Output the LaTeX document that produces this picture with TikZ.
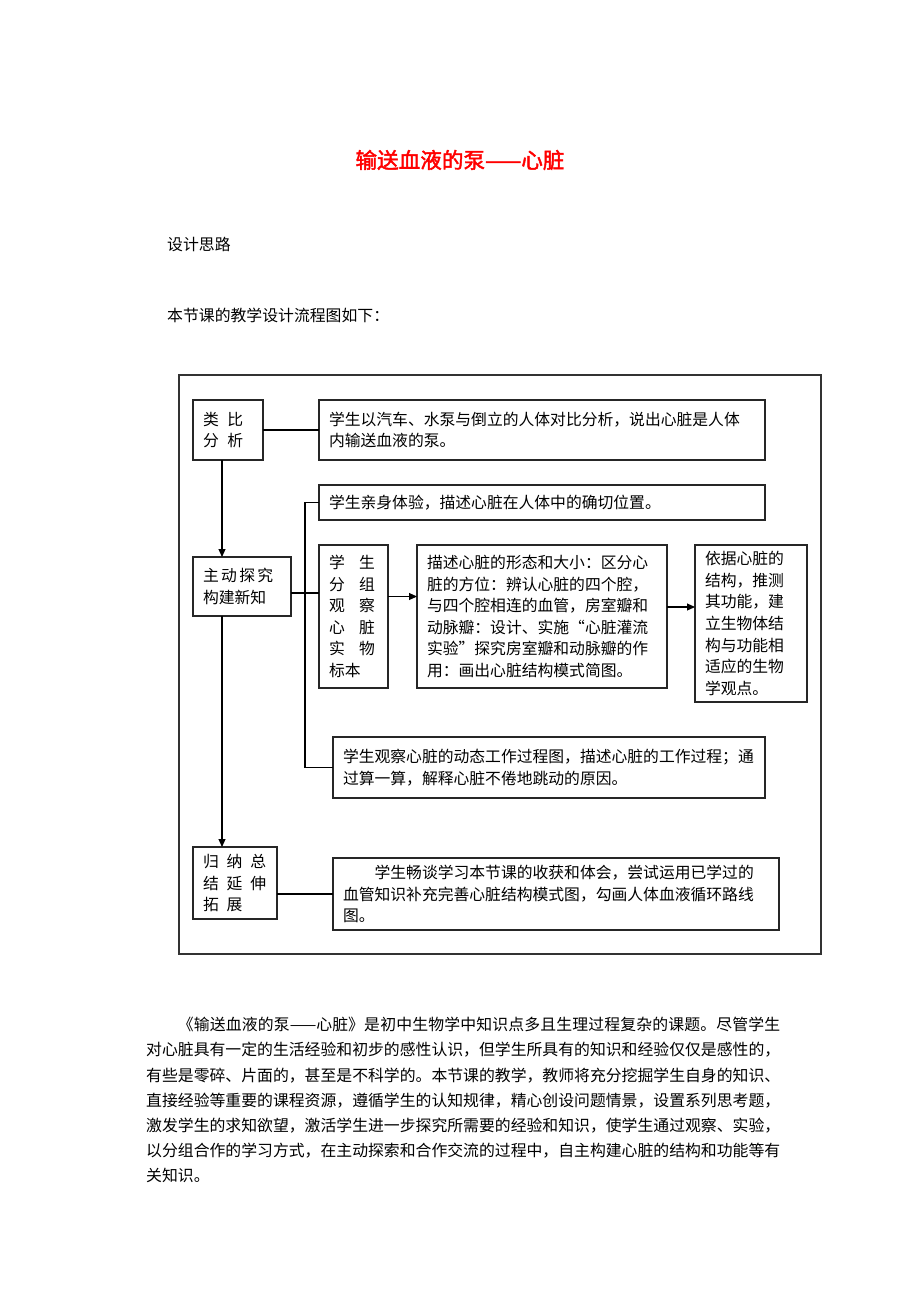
\documentclass[tikz,border=0pt]{standalone}
\usepackage{fontspec}
\setmainfont{Noto Sans CJK SC}[AutoFakeBold=2]
\usetikzlibrary{arrows.meta}
\begin{document}
\begin{tikzpicture}[x=1pt,y=-1pt,
  box/.style={draw=black!85,line width=1.3pt,align=left,inner xsep=10pt,inner ysep=0pt,outer sep=0pt,font=\fontsize{15.8}{21.6}\selectfont},
  arr/.style={-{Triangle[length=8pt,width=7pt]},line width=1.1pt},
  lin/.style={line width=1.1pt}]
\useasboundingbox (0,0) rectangle (920,1302);

\node (T1) at (460,160) [text=red,font=\fontsize{21.6}{26}\selectfont\bfseries]{输送血液的泵——心脏};
\node (T2) at (167,244) [anchor=west,inner sep=0pt,font=\fontsize{15.85}{20}\selectfont]{设计思路};
\node (T3) at (167,315) [anchor=west,inner sep=0pt,font=\fontsize{15.85}{20}\selectfont]{本节课的教学设计流程图如下：};

\draw[line width=1.2pt,black!80] (179,375) rectangle (821,954);

 \node (A) at (228,430) [box,minimum width=70pt,minimum height=60pt,text width=50pt]{类\hspace{0.55em}比\\分\hspace{0.55em}析};
 \node (B) at (542,430) [box,minimum width=446pt,minimum height=60pt,text width=426pt]{学生以汽车、水泵与倒立的人体对比分析，说出心脏是人体\\内输送血液的泵。};
 \node (C) at (542,502.5) [box,minimum width=446pt,minimum height=35pt,text width=426pt]{学生亲身体验，描述心脏在人体中的确切位置。};
 \node (D) at (242,586.5) [box,minimum width=98pt,minimum height=59pt,text width=78pt]{主\hspace{0.15em}动\hspace{0.15em}探\hspace{0.15em}究\\构建新知};
 \node (E) at (353.5,616.5) [box,minimum width=69pt,minimum height=143pt,text width=49pt]{学\hspace{0.9em}生\\分\hspace{0.9em}组\\观\hspace{0.9em}察\\心\hspace{0.9em}脏\\实\hspace{0.9em}物\\标本};
 \node (F) at (542,616.5) [box,minimum width=250pt,minimum height=143pt,text width=230pt]{描述心脏的形态和大小：区分心\\脏的方位：辨认心脏的四个腔，\\与四个腔相连的血管，房室瓣和\\动脉瓣：设计、实施“心脏灌流\\实验”探究房室瓣和动脉瓣的作\\用：画出心脏结构模式简图。};
 \node (G) at (751,623.5) [box,minimum width=112pt,minimum height=157pt,text width=92pt]{依据心脏的\\结构，推测\\其功能，建\\立生物体结\\构与功能相\\适应的生物\\学观点。};
 \node (H) at (549,767.5) [box,minimum width=432pt,minimum height=61pt,text width=412pt]{学生观察心脏的动态工作过程图，描述心脏的工作过程；通\\过算一算，解释心脏不倦地跳动的原因。};
 \node (I) at (235,883) [box,minimum width=84pt,minimum height=72pt,text width=64pt]{归\hspace{0.5em}纳\hspace{0.5em}总\\结\hspace{0.5em}延\hspace{0.5em}伸\\拓\hspace{0.5em}展};
 \node (J) at (556,894) [box,minimum width=446pt,minimum height=72pt,text width=426pt]{\hspace*{2em}学生畅谈学习本节课的收获和体会，尝试运用已学过的\\血管知识补充完善心脏结构模式图，勾画人体血液循环路线\\图。};

\coordinate (S) at (222,0);
\coordinate (K) at (305,0);

\draw[lin] (A.east) -- (A.east -| B.west);
\draw[arr] (A.south -| S) -- (D.north -| S);
\draw[arr] (D.south -| S) -- (I.north -| S);
\draw[lin] (C.west) -- (C.west -| K) -- (H.west -| K) -- (H.west);
\draw[lin] ([yshift=-6.5pt]D.east) -- ([yshift=-6.5pt]D.east -| E.west);
\draw[arr] ([yshift=20pt]E.east) -- ([yshift=20pt]E.east -| F.west);
\draw[arr] ([yshift=9.5pt]F.east) -- ([yshift=9.5pt]F.east -| G.west);
\draw[lin] (J.west -| I.east) -- (J.west);

\node (P) at (146,1017) [anchor=north west,inner sep=0pt,text width=634pt,align=justify,font=\fontsize{15.85}{25.2}\selectfont]{\XeTeXlinebreaklocale "zh"\XeTeXlinebreakskip=0pt plus 2pt minus 0.5pt
\hspace*{2em}《输送血液的泵——心脏》是初中生物学中知识点多且生理过程复杂的课题。尽管学生\linebreak
对心脏具有一定的生活经验和初步的感性认识，但学生所具有的知识和经验仅仅是感性的，\linebreak
有些是零碎、片面的，甚至是不科学的。本节课的教学，教师将充分挖掘学生自身的知识、\linebreak
直接经验等重要的课程资源，遵循学生的认知规律，精心创设问题情景，设置系列思考题，\linebreak
激发学生的求知欲望，激活学生进一步探究所需要的经验和知识，使学生通过观察、实验，\linebreak
以分组合作的学习方式，在主动探索和合作交流的过程中，自主构建心脏的结构和功能等有\linebreak
关知识。};

 \end{tikzpicture}
\end{document}
